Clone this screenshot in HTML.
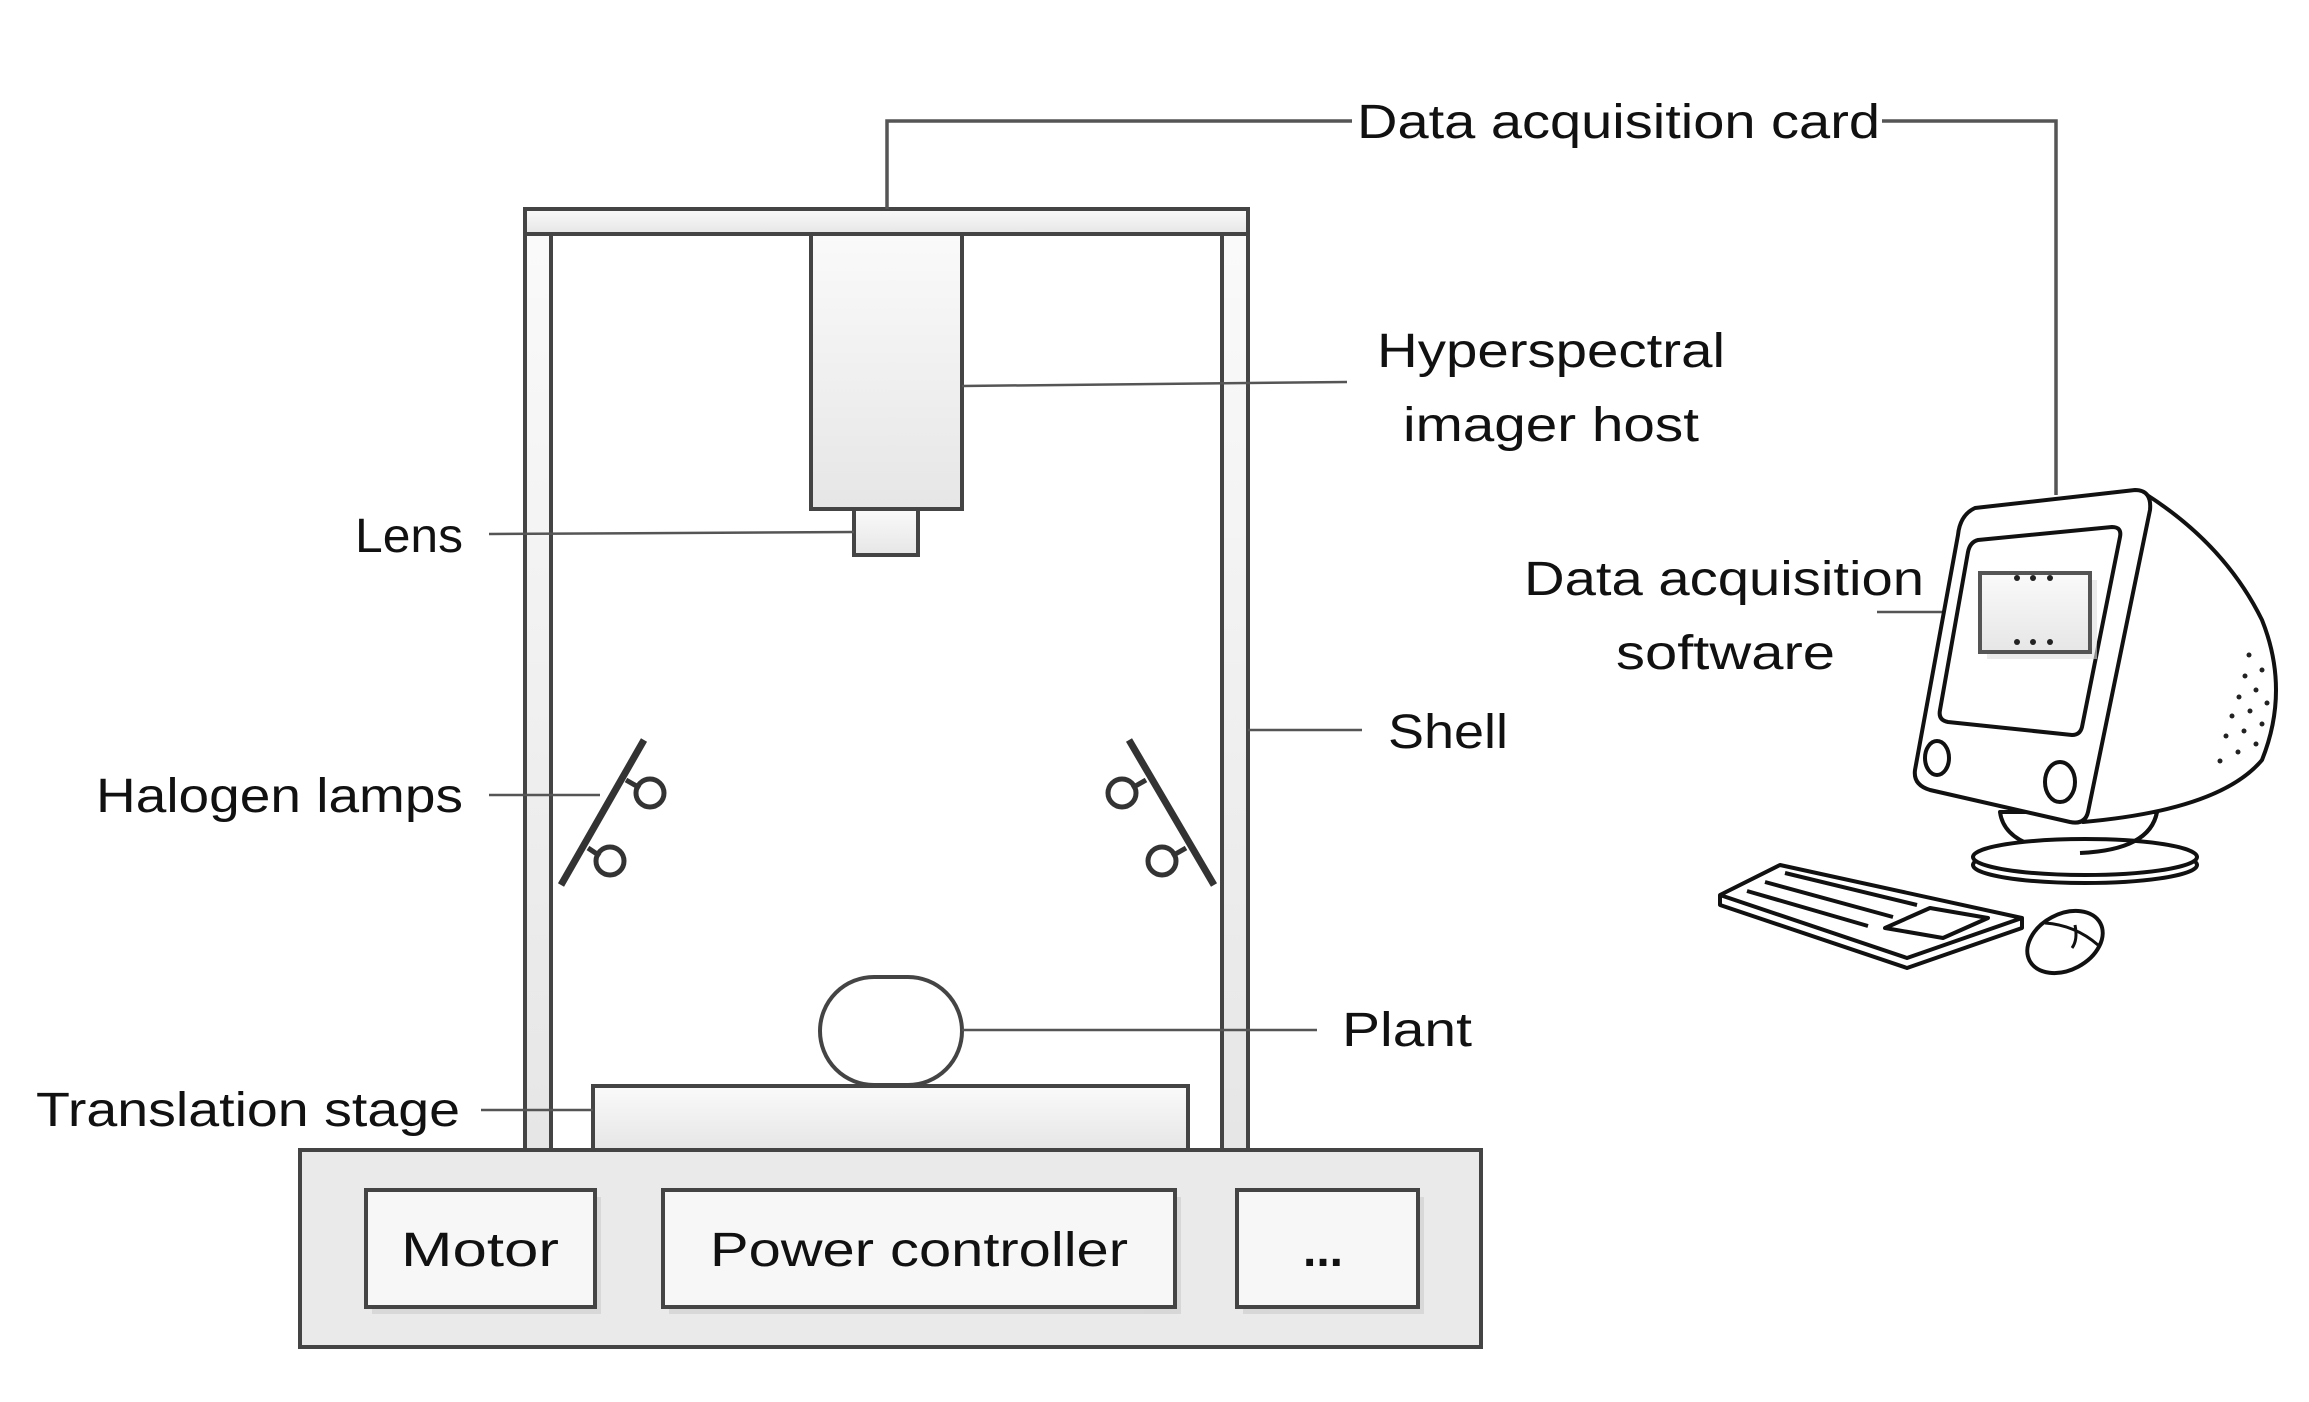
<!DOCTYPE html>
<html><head><meta charset="utf-8"><style>
html,body{margin:0;padding:0;background:#fff;}
svg{display:block;}
text{font-family:"Liberation Sans",sans-serif;font-size:48px;fill:#111;}
</style></head><body>
<svg width="2309" height="1402" viewBox="0 0 2309 1402" xmlns="http://www.w3.org/2000/svg">
<defs>
<linearGradient id="g" x1="0" y1="0" x2="0" y2="1"><stop offset="0" stop-color="#fafafa"/><stop offset="1" stop-color="#e6e6e6"/></linearGradient>
</defs>
<g stroke="#444" stroke-width="4" fill="url(#g)">
<!-- frame -->
<rect x="525" y="209" width="723" height="25"/>
<rect x="525" y="234" width="26" height="916"/>
<rect x="1222" y="234" width="26" height="916"/>
<!-- camera -->
<rect x="811" y="234" width="151" height="275"/>
<rect x="854" y="509" width="64" height="46"/>
<!-- plant -->
<rect x="820" y="977" width="142" height="108" rx="54" ry="54" fill="#fff"/>
<!-- stage -->
<rect x="593" y="1086" width="595" height="64"/>
<!-- base -->
<rect x="300" y="1150" width="1181" height="197" fill="#eaeaea"/>
</g>
<g fill="#ccc" opacity="0.6">
<rect x="372" y="1197" width="229" height="117"/>
<rect x="669" y="1197" width="512" height="117"/>
<rect x="1243" y="1197" width="181" height="117"/>
</g>
<g stroke="#444" stroke-width="4" fill="#f7f7f7">
<rect x="366" y="1190" width="229" height="117"/>
<rect x="663" y="1190" width="512" height="117"/>
<rect x="1237" y="1190" width="181" height="117"/>
</g>
<!-- connectors -->
<g stroke="#555" stroke-width="2.5" fill="none">
<polyline points="887,209 887,121 1352,121" stroke-width="3.5"/>
<polyline points="1882,121 2056,121 2056,495" stroke-width="3.5"/>
<line x1="962" y1="386" x2="1347" y2="382"/>
<line x1="489" y1="534" x2="854" y2="532"/>
<line x1="489" y1="795" x2="600" y2="795"/>
<line x1="1248" y1="730" x2="1362" y2="730"/>
<line x1="962" y1="1030" x2="1317" y2="1030"/>
<line x1="481" y1="1110" x2="593" y2="1110"/>
<line x1="1877" y1="612" x2="1980" y2="612"/>
</g>
<!-- lamps -->
<g stroke="#333" stroke-width="5" fill="#fff">
<line x1="644" y1="740" x2="561" y2="885" stroke-width="7"/>
<line x1="1129" y1="740" x2="1214" y2="885" stroke-width="7"/>
<circle cx="650" cy="793" r="14"/><circle cx="610" cy="861" r="14"/>
<circle cx="1122" cy="793" r="14"/><circle cx="1162" cy="861" r="14"/>
<line x1="626" y1="780" x2="640" y2="788"/><line x1="588" y1="848" x2="600" y2="856"/>
<line x1="1146" y1="780" x2="1132" y2="788"/><line x1="1186" y1="848" x2="1172" y2="856"/>
</g>
<!-- computer -->
<g stroke="#111" stroke-width="4" fill="#fff" stroke-linejoin="round">
<path d="M2000,812 Q2005,850 2080,853 Q2150,850 2157,812 Z"/>
<ellipse cx="2085" cy="865" rx="112" ry="18"/>
<ellipse cx="2085" cy="857" rx="112" ry="18"/>
<path d="M2080,853 Q2150,850 2157,812" fill="none"/>
<path d="M2147,495 Q2225,545 2262,620 Q2290,690 2262,760 Q2220,810 2083,822 Z"/>
<path d="M1975,508 Q1960,515 1958,535 L1915,770 Q1913,785 1930,790 L2070,822 Q2085,825 2088,812 L2150,510 Q2152,490 2135,490 Z"/>
<path d="M1978,540 Q1970,542 1968,552 L1940,710 Q1938,720 1948,722 L2072,735 Q2080,735 2082,727 L2120,537 Q2122,527 2112,527 Z"/>
<ellipse cx="1937" cy="758" rx="12" ry="17"/>
<ellipse cx="2060" cy="782" rx="15" ry="20"/>
<ellipse cx="2065" cy="942" rx="40" ry="28" transform="rotate(-28 2065 942)"/>
<path d="M2045,923 Q2075,925 2098,945 M2075,925 Q2078,940 2072,948" fill="none" stroke-width="3"/>
<path d="M1720,895 L1780,865 L2022,918 L2022,928 L1907,968 L1720,905 Z"/>
<path d="M1720,895 L1907,958 L2022,918" fill="none"/>
<path d="M1885,928 L1930,908 L1988,918 L1943,938 Z"/>
<g stroke-width="4" fill="none">
<line x1="1785" y1="873" x2="1917" y2="905"/>
<line x1="1765" y1="882" x2="1893" y2="917"/>
<line x1="1747" y1="891" x2="1868" y2="926"/>
</g>
</g>
<g fill="#222">
<circle cx="2249" cy="655" r="2.5"/><circle cx="2262" cy="670" r="2.5"/><circle cx="2245" cy="676" r="2.5"/>
<circle cx="2256" cy="690" r="2.5"/><circle cx="2239" cy="697" r="2.5"/><circle cx="2267" cy="703" r="2.5"/>
<circle cx="2250" cy="711" r="2.5"/><circle cx="2232" cy="716" r="2.5"/><circle cx="2262" cy="724" r="2.5"/>
<circle cx="2244" cy="731" r="2.5"/><circle cx="2226" cy="736" r="2.5"/><circle cx="2256" cy="744" r="2.5"/>
<circle cx="2238" cy="752" r="2.5"/><circle cx="2220" cy="761" r="2.5"/>
</g>
<rect x="1987" y="580" width="110" height="79" fill="#ddd" opacity="0.6"/>
<rect x="1980" y="573" width="110" height="79" fill="url(#g)" stroke="#555" stroke-width="4"/>
<g fill="#222">
<circle cx="2017" cy="578" r="3"/><circle cx="2033" cy="578" r="3"/><circle cx="2050" cy="578" r="3"/>
<circle cx="2017" cy="642" r="3"/><circle cx="2033" cy="642" r="3"/><circle cx="2050" cy="642" r="3"/>
</g>
<!-- labels -->
<text x="1357" y="138" textLength="523" lengthAdjust="spacingAndGlyphs">Data acquisition card</text>
<text x="1377" y="367" textLength="348" lengthAdjust="spacingAndGlyphs">Hyperspectral</text>
<text x="1403" y="441" textLength="296" lengthAdjust="spacingAndGlyphs">imager host</text>
<text x="355" y="552" textLength="108" lengthAdjust="spacingAndGlyphs">Lens</text>
<text x="96" y="812" textLength="367" lengthAdjust="spacingAndGlyphs">Halogen lamps</text>
<text x="1388" y="748" textLength="120" lengthAdjust="spacingAndGlyphs">Shell</text>
<text x="1342" y="1046" textLength="130" lengthAdjust="spacingAndGlyphs">Plant</text>
<text x="36" y="1126" textLength="424" lengthAdjust="spacingAndGlyphs">Translation stage</text>
<text x="1524" y="595" textLength="400" lengthAdjust="spacingAndGlyphs">Data acquisition</text>
<text x="1616" y="669" textLength="219" lengthAdjust="spacingAndGlyphs">software</text>
<text x="401" y="1266" textLength="158" lengthAdjust="spacingAndGlyphs">Motor</text>
<text x="710" y="1266" textLength="418" lengthAdjust="spacingAndGlyphs">Power controller</text>
<text x="1303" y="1266" font-weight="bold">...</text>
</svg>
</body></html>
